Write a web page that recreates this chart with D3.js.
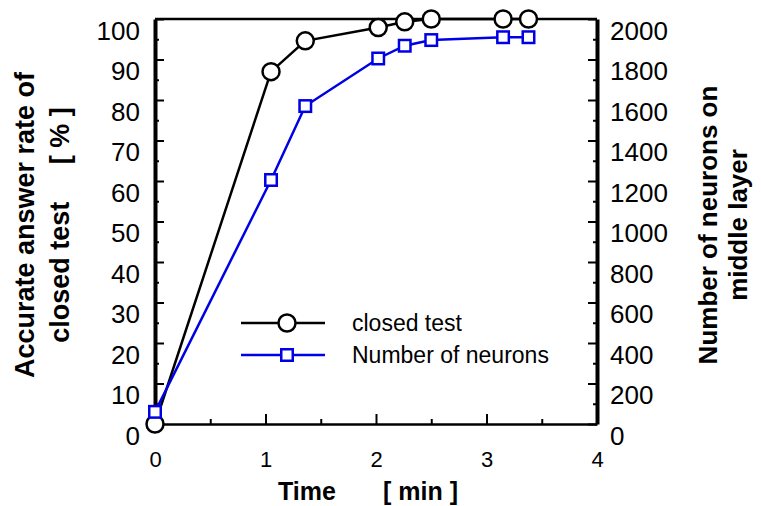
<!DOCTYPE html>
<html>
<head>
<meta charset="utf-8">
<script src="https://cdn.jsdelivr.net/npm/d3@7"></script>
<style>
  body { margin: 0; background: #fff; }
  svg { font-family: "Liberation Sans", Arial, sans-serif; }
</style>
</head>
<body>
<div id="chart"></div>
<script>
const width = 761;
const height = 506;

// data
const times = [0, 1.05, 1.36, 2.02, 2.26, 2.50, 3.15, 3.38];
const accuracy = [0, 87.0, 94.6, 97.9, 99.3, 100, 100, 100];
const neurons = [60, 1205, 1570, 1805, 1868, 1896, 1910, 1910];

const xTicks = [0, 1, 2, 3, 4];
const accTicks = [0, 10, 20, 30, 40, 50, 60, 70, 80, 90, 100];
const neuronTicks = [0, 200, 400, 600, 800, 1000, 1200, 1400, 1600, 1800, 2000];

const seriesNames = ["closed test", "Number of neurons"];

const blue = "#0000e6";

const svg = d3.select("#chart")
	.append("svg")
	.attr("width", width)
	.attr("height", height);

const x = d3.scaleLinear().domain([0, 4]).range([155, 597]);
const yL = d3.scaleLinear().domain([0, 100]).range([424, 19]);
const yR = d3.scaleLinear().domain([0, 2000]).range([424, 19]);

const fmt = d3.format("d");

// minor ticks
svg.append("g")
	.attr("transform", `translate(${x(0)},0)`)
	.call(d3.axisLeft(yL).tickValues(d3.range(5, 100, 10)).tickSize(-4).tickSizeOuter(0).tickFormat(""))
	.call(g => g.select(".domain").remove())
	.selectAll("line").attr("stroke-width", 2);

svg.append("g")
	.attr("transform", `translate(${x(4)},0)`)
	.call(d3.axisRight(yR).tickValues(d3.range(100, 2000, 200)).tickSize(-4).tickSizeOuter(0).tickFormat(""))
	.call(g => g.select(".domain").remove())
	.selectAll("line").attr("stroke-width", 2);

svg.append("g")
	.attr("transform", `translate(0,${yL(0)})`)
	.call(d3.axisBottom(x).tickValues([0.5, 1.5, 2.5, 3.5]).tickSize(-5).tickSizeOuter(0).tickFormat(""))
	.call(g => g.select(".domain").remove())
	.selectAll("line").attr("stroke-width", 2);

// major axes
const leftAxis = svg.append("g")
	.attr("transform", `translate(${x(0)},0)`)
	.call(d3.axisLeft(yL).tickValues(accTicks).tickFormat(fmt).tickSize(-9).tickSizeOuter(0).tickPadding(15));

const rightAxis = svg.append("g")
	.attr("transform", `translate(${x(4)},0)`)
	.call(d3.axisRight(yR).tickValues(neuronTicks).tickFormat(fmt).tickSize(-9).tickSizeOuter(0).tickPadding(13));

const bottomAxis = svg.append("g")
	.attr("transform", `translate(0,${yL(0)})`)
	.call(d3.axisBottom(x).tickValues(xTicks).tickFormat(fmt).tickSize(-10).tickSizeOuter(0).tickPadding(43));

[leftAxis, rightAxis].forEach(g => {
	g.selectAll("text").attr("font-size", 26).attr("fill", "#000").attr("dy", "0.78em");
	g.selectAll(".tick line").attr("stroke-width", 2);
	g.select(".domain").attr("stroke-width", 4);
});
bottomAxis.selectAll("text").attr("font-size", 22).attr("fill", "#000").attr("dy", "0");
bottomAxis.selectAll(".tick line").attr("stroke-width", 2);
bottomAxis.select(".domain").attr("stroke-width", 2.5);

// top frame
svg.append("line")
	.attr("x1", x(0)).attr("x2", x(4))
	.attr("y1", yL(100)).attr("y2", yL(100))
	.attr("stroke", "#000").attr("stroke-width", 2.5);

// closed test
const lineAcc = d3.line().x((d, i) => x(times[i])).y(d => yL(d));
svg.append("path")
	.datum(accuracy)
	.attr("d", lineAcc)
	.attr("fill", "none")
	.attr("stroke", "#000")
	.attr("stroke-width", 2.5);

svg.selectAll(".acc-pt")
	.data(accuracy)
	.join("circle")
	.attr("class", "acc-pt")
	.attr("cx", (d, i) => x(times[i]))
	.attr("cy", d => yL(d))
	.attr("r", 8.5)
	.attr("fill", "#fff")
	.attr("stroke", "#000")
	.attr("stroke-width", 2.5);

// number of neurons
const lineNeu = d3.line().x((d, i) => x(times[i])).y(d => yR(d));
svg.append("path")
	.datum(neurons)
	.attr("d", lineNeu)
	.attr("fill", "none")
	.attr("stroke", blue)
	.attr("stroke-width", 2.5);

const sq = 11.5;
svg.selectAll(".neu-pt")
	.data(neurons)
	.join("rect")
	.attr("class", "neu-pt")
	.attr("x", (d, i) => x(times[i]) - sq / 2)
	.attr("y", d => yR(d) - sq / 2)
	.attr("width", sq)
	.attr("height", sq)
	.attr("fill", "#fff")
	.attr("stroke", blue)
	.attr("stroke-width", 2.5);

// legend
const legend = svg.append("g").attr("transform", "translate(241,323)");
seriesNames.forEach((name, i) => {
	let row = legend.append("g").attr("transform", `translate(0,${i * 32})`);
	let col = i === 0 ? "#000" : blue;
	row.append("line")
		.attr("x1", 0).attr("x2", 84)
		.attr("stroke", col).attr("stroke-width", 2.5);
	if (i === 0) {
		row.append("circle").attr("cx", 46).attr("r", 8.5)
			.attr("fill", "#fff").attr("stroke", col).attr("stroke-width", 2.5);
	} else {
		row.append("rect").attr("x", 46 - sq / 2).attr("y", -sq / 2)
			.attr("width", sq).attr("height", sq)
			.attr("fill", "#fff").attr("stroke", col).attr("stroke-width", 2.5);
	}
	row.append("text")
		.attr("x", 111).attr("y", 8)
		.attr("font-size", 23)
		.text(name);
});

// axis titles
const xTitle = svg.append("text")
	.attr("y", 500)
	.attr("font-size", 25)
	.attr("font-weight", "bold");
xTitle.append("tspan").attr("x", 278).text("Time");
xTitle.append("tspan").attr("x", 383).text("[ min ]");

const leftTitle = svg.append("text")
	.attr("transform", "translate(0,225) rotate(-90)")
	.attr("text-anchor", "middle")
	.attr("font-size", 27)
	.attr("font-weight", "bold")
	.style("white-space", "pre");
leftTitle.append("tspan").attr("x", 0).attr("y", 34).text("Accurate answer rate of");
leftTitle.append("tspan").attr("x", 0).attr("y", 69).text("closed test     [ % ]");

const rightTitle = svg.append("text")
	.attr("transform", "translate(0,225) rotate(-90)")
	.attr("text-anchor", "middle")
	.attr("font-size", 26)
	.attr("font-weight", "bold");
rightTitle.append("tspan").attr("x", 0).attr("y", 717).text("Number of neurons on");
rightTitle.append("tspan").attr("x", 0).attr("y", 747).text("middle layer");
</script>
</body>
</html>
